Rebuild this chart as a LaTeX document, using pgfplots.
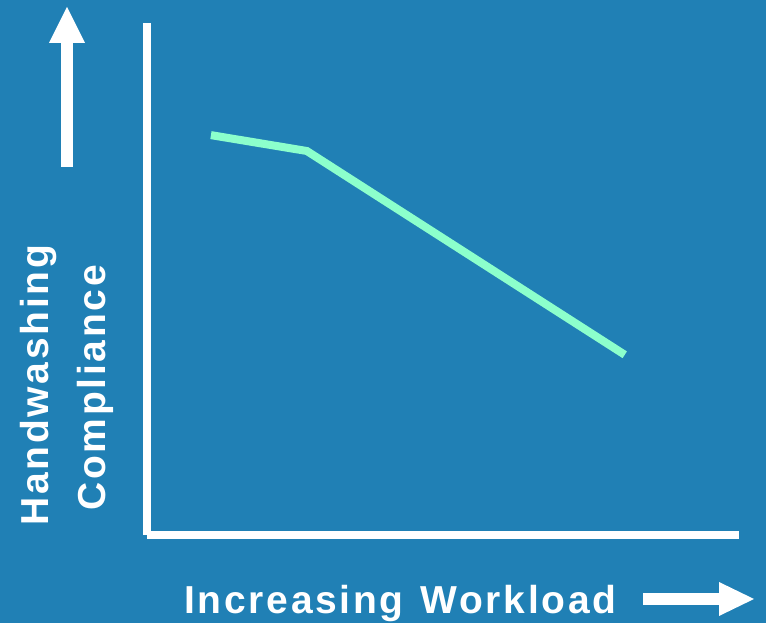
\documentclass[border=0pt]{standalone}
\usepackage{pgfplots}
\pgfplotsset{compat=1.18}
\usepackage{fontspec}
\setmainfont{Liberation Sans}
\newfontfamily\labelfont[LetterSpace=7]{Liberation Sans}
\definecolor{bgblue}{RGB}{32,128,181}
\definecolor{trend}{RGB}{140,255,204}
\newcommand{\bigbold}{\labelfont\bfseries\fontsize{39}{44}\selectfont}

\begin{document}
\begin{tikzpicture}[x=1pt,y=1pt]
  \useasboundingbox (0,0) rectangle (766,623);
  \fill[bgblue] (0,0) rectangle (766,623);

  \begin{axis}[
    at={(147pt,88pt)}, anchor=south west,
    scale only axis, width=592pt, height=512pt,
    xmin=0, xmax=100, ymin=0, ymax=100,
    axis lines=none, clip=false,
  ]
    % axes drawn as plain white strokes
    \draw[white, line width=8pt] (axis cs:0,0) -- (axis cs:0,100);
    \draw[white, line width=8pt] (axis cs:0,0) -- (axis cs:100,0);
    % compliance falls as workload rises
    \addplot[trend, line width=8pt, mark=none] coordinates {
      (10.8,78.1) (27.0,75.0) (80.7,35.2)
    };
  \end{axis}

  % direction arrows
  \fill[white] (61,456) rectangle (73,581);
  \fill[white] (49,580) -- (85,580) -- (67,616) -- cycle;
  \fill[white] (643,18) rectangle (719,30);
  \fill[white] (719,7) -- (719,41) -- (754,24) -- cycle;

  % labels
  \node[anchor=base west, inner sep=0, rotate=90, text=white, font=\bigbold]
    at (48,97) {Handwashing};
  \node[anchor=base west, inner sep=0, rotate=90, text=white, font=\bigbold]
    at (105.5,112) {Compliance};
  \node[anchor=base west, inner sep=0, text=white, font=\bigbold]
    at (184,9.5) {Increasing\hspace{3pt} Workload};
\end{tikzpicture}
\end{document}
